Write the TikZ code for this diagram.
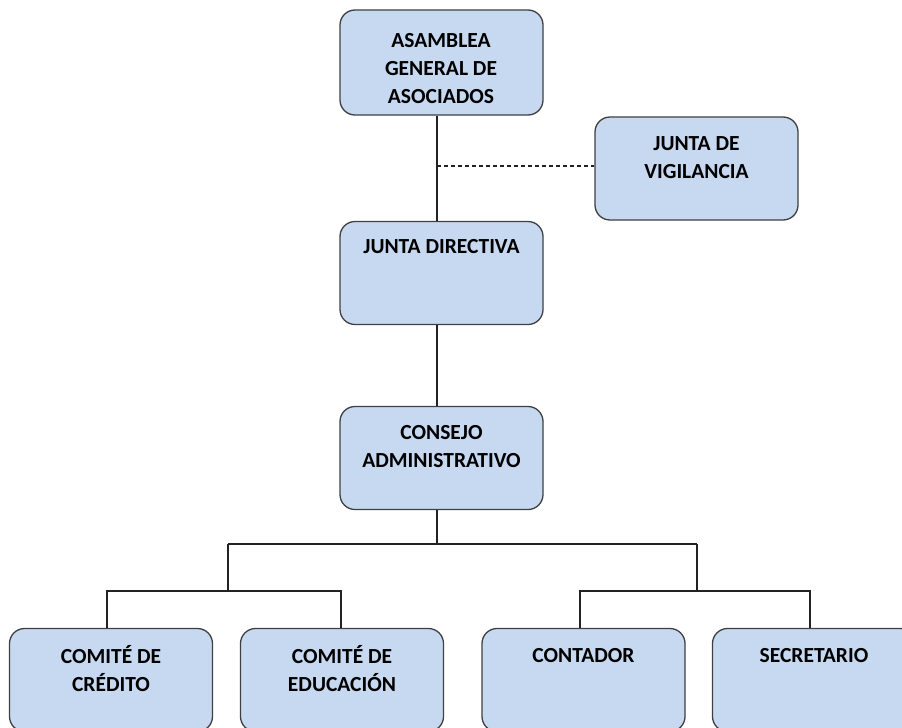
\documentclass[tikz,border=0pt]{standalone}
\usepackage{fontspec}
\setmainfont{Carlito}
\definecolor{boxblue}{HTML}{C6D9F1}
\definecolor{boxedge}{HTML}{404040}
\definecolor{linec}{HTML}{222222}
\begin{document}
\begin{tikzpicture}[x=1pt,y=-1pt,
  orgbox/.style={draw=boxedge, fill=boxblue, line width=1.3pt, rounded corners=15pt,
    minimum width=203pt, minimum height=103pt, inner sep=0pt, shape=rectangle},
  lbl/.style={anchor=base, align=center, inner sep=0pt, text=black,
    font=\fontsize{21.5}{28}\selectfont\bfseries},
  conn/.style={draw=linec, line width=1.2pt},
  dashconn/.style={draw=linec, line width=1.1pt, dash pattern=on 4pt off 3pt}]
\fill[white] (0,0) rectangle (902,728);
\clip (0,0) rectangle (902,728);
\useasboundingbox (0,0) rectangle (902,728);

% boxes
\node[orgbox, minimum height=105pt] (asam) at (441.5,62.5) {};
\node[orgbox] (vig)  at (696.5,168.5) {};
\node[orgbox] (jd)   at (441.5,273) {};
\node[orgbox] (cons) at (441.5,458) {};
\node[orgbox] (cred) at (111,680) {};
\node[orgbox] (edu)  at (342,680) {};
\node[orgbox] (cont) at (583.5,680) {};
\node[orgbox] (sec)  at (814,680) {};

% texts (anchored at the baseline of the last line)
\node[lbl] (tasam) at (441,103) {ASAMBLEA\\GENERAL DE\\ASOCIADOS};
\node[lbl] (tvig)  at (696.5,178) {JUNTA DE\\VIGILANCIA};
\node[lbl] (tjd)   at (441.5,253) {JUNTA DIRECTIVA};
\node[lbl] (tcons) at (441.5,467) {CONSEJO\\ADMINISTRATIVO};
\node[lbl] (tcred) at (111,691) {COMITÉ DE\\CRÉDITO};
\node[lbl] (tedu)  at (342,691) {COMITÉ DE\\EDUCACIÓN};
\node[lbl] (tcont) at (583.5,662) {CONTADOR};
\node[lbl] (tsec)  at (814,662) {SECRETARIO};

% connectors
\coordinate (dashj) at (437,166);
\coordinate (hub)  at (437,544);
\coordinate (hubL) at (228,544);
\coordinate (hubR) at (697,544);
\coordinate (subL) at (228,591);
\coordinate (subR) at (697,591);

\draw[conn] ([xshift=-4.5pt]asam.south) -- ([xshift=-4.5pt]jd.north);
\draw[dashconn] (dashj) -- (dashj -| vig.west);
\draw[conn] ([xshift=-4.5pt]jd.south) -- ([xshift=-4.5pt]cons.north);
\draw[conn] ([xshift=-4.5pt]cons.south) -- (hub);
\draw[conn] (hubL) -- (hubR);
\draw[conn] (hubL) -- (subL);
\draw[conn] (hubR) -- (subR);
\draw[conn] ([xshift=-4pt]cred.north) |- (subL) -| ([xshift=-1pt]edu.north);
\draw[conn] ([xshift=-3.5pt]cont.north) |- (subR) -| ([xshift=-4pt]sec.north);
\end{tikzpicture}
\end{document}
